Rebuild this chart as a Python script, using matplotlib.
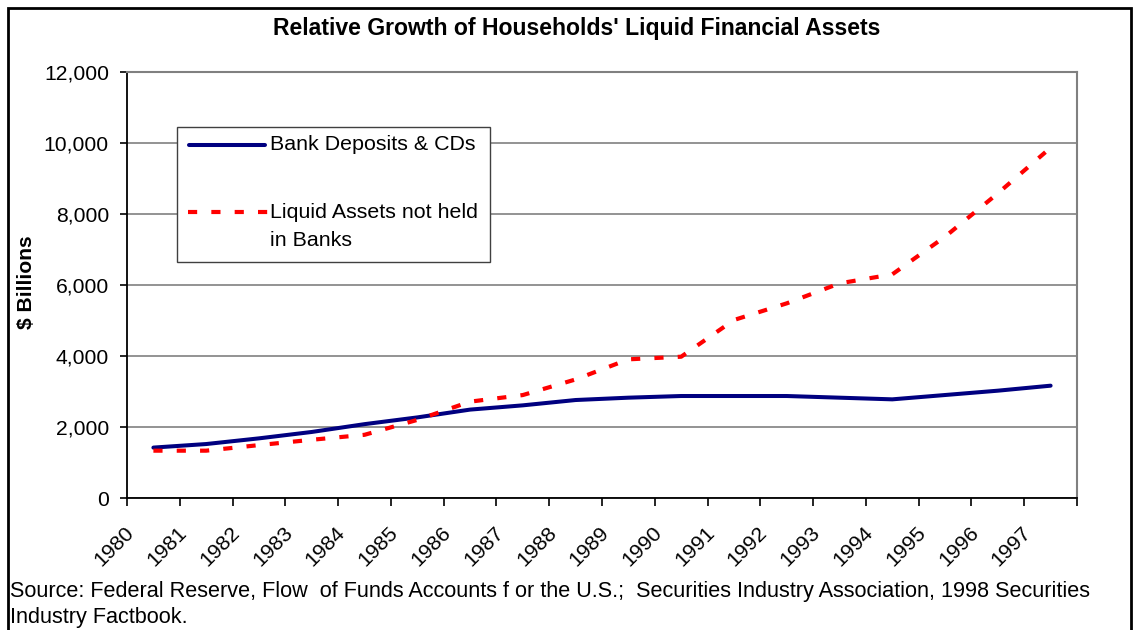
import matplotlib
matplotlib.use("Agg")
import matplotlib.pyplot as plt
import matplotlib.transforms as mtransforms
from matplotlib.patches import Rectangle
from matplotlib.lines import Line2D
import numpy as np

years = ["1980", "1981", "1982", "1983", "1984", "1985", "1986", "1987", "1988",
         "1989", "1990", "1991", "1992", "1993", "1994", "1995", "1996", "1997"]
bank_deposits = [1420, 1520, 1680, 1860, 2080, 2270, 2490, 2610, 2760,
                 2826, 2873, 2873, 2873, 2826, 2779, 2901, 3023, 3164]
liquid_not_banks = [1333, 1333, 1490, 1640, 1780, 2200, 2714, 2900, 3340,
                    3906, 3980, 5014, 5483, 6046, 6300, 7361, 8582, 9868]
y_ticks = [0, 2000, 4000, 6000, 8000, 10000, 12000]

title = "Relative Growth of Households' Liquid Financial Assets"
ylabel = "$ Billions"
label_bank = "Bank Deposits & CDs"
label_liquid = ["Liquid Assets not held", "in Banks"]
source_lines = ["Source: Federal Reserve, Flow  of Funds Accounts f or the U.S.;  Securities Industry Association, 1998 Securities",
                "Industry Factbook."]

plt.rcParams['font.family'] = ['Liberation Sans', 'DejaVu Sans']

W, H = 1133, 630
fig = plt.figure(figsize=(W / 100, H / 100), dpi=100)

def fx(px):
    return px / W

def fy(py):
    return 1 - py / H

ax = fig.add_axes([fx(127), fy(498), fx(1077) - fx(127), fy(72) - fy(498)])

n = len(years)
x = np.arange(n) + 0.5
navy = "#000080"
red = "#FF0000"
dash = (2.2, 3.4)

ax.plot(x, bank_deposits, color=navy, lw=2.9, solid_joinstyle='round',
        solid_capstyle='round', zorder=3)
ax.plot(x, liquid_not_banks, color=red, lw=3.0, dashes=dash,
        dash_capstyle='butt', zorder=4)

ax.set_xlim(0, n)
ax.set_ylim(0, 12000)
ax.set_yticks(y_ticks)
ax.set_yticklabels([f"{v:,}" for v in y_ticks], fontsize=15.2)
ax.yaxis.grid(True, color="#808080", lw=1.2)
ax.set_axisbelow(True)

ax.set_xticks(np.arange(n + 1))
ax.set_xticklabels([])
ax.set_xticks(x, minor=True)
ax.set_xticklabels(years, minor=True, rotation=45, ha='right', va='top',
                   rotation_mode='anchor', fontsize=15.3)
ax.tick_params(axis='x', which='minor', length=0, pad=18)
ax.tick_params(axis='x', which='major', length=6, width=1.2, color='black', direction='out')
ax.tick_params(axis='y', length=5, width=1.2, color='black', direction='out', pad=8)
offset = mtransforms.ScaledTranslation(-29 / 100, 0, fig.dpi_scale_trans)
for lab in ax.xaxis.get_minorticklabels():
    lab.set_transform(lab.get_transform() + offset)

for s in ['left', 'bottom']:
    ax.spines[s].set_color('black')
    ax.spines[s].set_linewidth(1.3)
for s in ['top', 'right']:
    ax.spines[s].set_color('#808080')
    ax.spines[s].set_linewidth(1.5)

fig.text(fx(577), fy(28), title, ha='center', va='center', fontsize=16.6, fontweight='bold')
fig.text(fx(26), fy(282), ylabel, ha='center', va='center', rotation=90,
         fontsize=15.2, fontweight='bold')
fig.text(fx(10), fy(591), source_lines[0], ha='left', va='center', fontsize=15.6)
fig.text(fx(10), fy(617), source_lines[1], ha='left', va='center', fontsize=15.6)

# legend (manual, Excel style)
fig.patches.append(Rectangle((fx(177), fy(262)), fx(490) - fx(177), fy(127) - fy(262),
                             transform=fig.transFigure, facecolor='white',
                             edgecolor='#404040', lw=1.0, zorder=10))
fig.lines.append(Line2D([fx(189), fx(265)], [fy(145), fy(145)], transform=fig.transFigure,
                        color=navy, lw=2.9, solid_capstyle='round', zorder=11))
fig.lines.append(Line2D([fx(188), fx(268)], [fy(212), fy(212)], transform=fig.transFigure,
                        color=red, lw=3.0, dashes=dash, dash_capstyle='butt', zorder=11))
fig.text(fx(270), fy(145), label_bank, ha='left', va='center', fontsize=15.4, zorder=12)
fig.text(fx(270), fy(212), label_liquid[0], ha='left', va='center', fontsize=15.4, zorder=12)
fig.text(fx(270), fy(240), label_liquid[1], ha='left', va='center', fontsize=15.4, zorder=12)

# outer frame
fig.patches.append(Rectangle((fx(7.5), fy(640)), fx(1130.5) - fx(7.5), fy(7.5) - fy(640),
                             transform=fig.transFigure, facecolor='none',
                             edgecolor='black', lw=2.0, zorder=20))

fig.savefig("out.png", dpi=100)
